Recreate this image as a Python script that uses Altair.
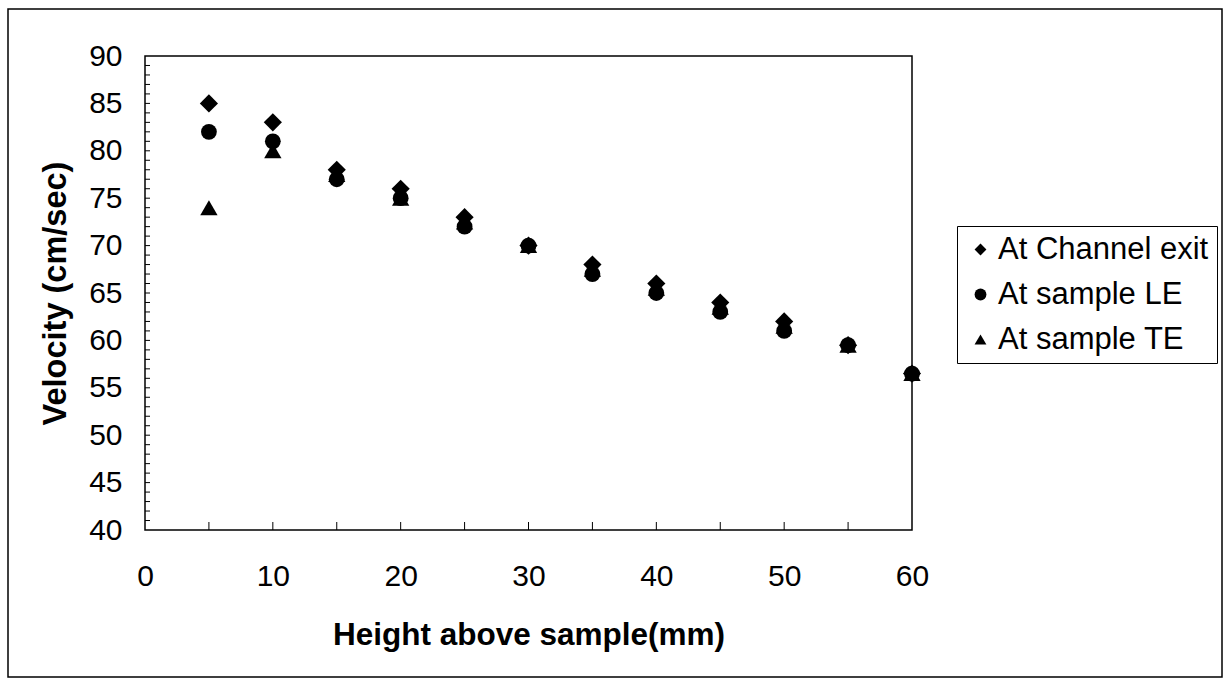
import altair as alt
import pandas as pd

# Air velocity profile above the sample, three measuring stations
heights_mm = [5, 10, 15, 20, 25, 30, 35, 40, 45, 50, 55, 60]
channel_exit = [85, 83, 78, 76, 73, 70, 68, 66, 64, 62, 59.5, 56.5]
sample_le = [82, 81, 77, 75, 72, 70, 67, 65, 63, 61, 59.5, 56.5]
sample_te = [74, 80, 77.5, 75, 72.5, 70, 67.5, 65.5, 63.5, 61.5, 59.5, 56.5]

series_names = ["At Channel exit", "At sample LE", "At sample TE"]
series_shapes = ["diamond", "circle", "triangle-up"]
series_sizes = [330, 250, 300]

x_labels = [0, 10, 20, 30, 40, 50, 60]
y_labels = [40, 45, 50, 55, 60, 65, 70, 75, 80, 85, 90]
x_ticks = [5, 10, 15, 20, 25, 30, 35, 40, 45, 50, 55]
y_ticks = list(range(41, 90))

rows = []
for name, values in zip(series_names, [channel_exit, sample_le, sample_te]):
    for h, v in zip(heights_mm, values):
        rows.append({"height": h, "velocity": v, "series": name})
df = pd.DataFrame(rows)

W, H = 767, 474
FONT = "Liberation Sans"

xscale = alt.Scale(domain=[0, 60], nice=False, zero=False)
yscale = alt.Scale(domain=[40, 90], nice=False, zero=False)
shape_scale = alt.Scale(domain=series_names, range=series_shapes)

x_axis = alt.Axis(values=x_labels, ticks=False, tickSize=0, domain=False, grid=False,
                  labelFont=FONT, labelFontSize=30, labelColor="black", labelFlush=False,
                  labelPadding=46, labelBaseline="middle",
                  title="Height above sample(mm)", titleFont=FONT, titleFontSize=31.5,
                  titleFontWeight="bold", titleColor="black",
                  titleY=105, titleBaseline="middle")
y_axis = alt.Axis(values=y_labels, ticks=False, tickSize=0, domain=False, grid=False,
                  labelFont=FONT, labelFontSize=30, labelColor="black", labelFlush=False,
                  labelPadding=23,
                  title="Velocity (cm/sec)", titleFont=FONT, titleFontSize=32.5,
                  titleFontWeight="bold", titleColor="black",
                  titleX=-90, titleY=H / 2, titleAngle=-90,
                  titleBaseline="middle", titleAlign="center")
legend = alt.Legend(orient="none", legendX=812, legendY=170, title=None,
                    labelFont=FONT, labelFontSize=31, labelColor="black",
                    labelLimit=400, labelOffset=2, symbolSize=140,
                    symbolFillColor="black", symbolStrokeColor="black",
                    symbolStrokeWidth=0, strokeColor="black",
                    fillColor="white", padding=8, rowPadding=13)

# one marker layer per series so each symbol keeps its own size
series_layers = []
for name, size in zip(series_names, series_sizes):
    series_layers.append(
        alt.Chart(df).transform_filter(alt.datum.series == name)
        .mark_point(filled=True, color="black", opacity=1, size=size)
        .encode(
            x=alt.X("height:Q", scale=xscale, axis=x_axis),
            y=alt.Y("velocity:Q", scale=yscale, axis=y_axis),
            shape=alt.Shape("series:N", sort=series_names, scale=shape_scale, legend=legend),
        )
    )

# inward minor ticks along the value axis
ytick_df = pd.DataFrame({"velocity": y_ticks})
ytick_rules = alt.Chart(ytick_df).mark_rule(color="black", strokeWidth=1).encode(
    y=alt.Y("velocity:Q", scale=yscale, axis=y_axis),
    x=alt.value(0),
    x2=alt.value(5),
)

# inward ticks along the height axis
xtick_df = pd.DataFrame({"height": x_ticks})
xtick_rules = alt.Chart(xtick_df).mark_rule(color="black", strokeWidth=1).encode(
    x=alt.X("height:Q", scale=xscale, axis=x_axis),
    y=alt.value(H),
    y2=alt.value(H - 8),
)

# border around the whole chart area
frame = alt.Chart(pd.DataFrame({"k": [0]})).mark_rect(
    fill=None, stroke="black", strokeWidth=1.5
).encode(
    x=alt.value(-137), x2=alt.value(1077), y=alt.value(-47), y2=alt.value(621)
)

chart = alt.layer(*series_layers, ytick_rules, xtick_rules, frame).properties(
    width=W, height=H,
    padding={"left": 145, "top": 56, "right": 312, "bottom": 149},
    autosize=alt.AutoSizeParams(type="none"),
    background="white",
).configure_view(stroke="black", strokeWidth=1.5)

chart.save("out.html", embed_options={"renderer": "svg", "actions": False})
